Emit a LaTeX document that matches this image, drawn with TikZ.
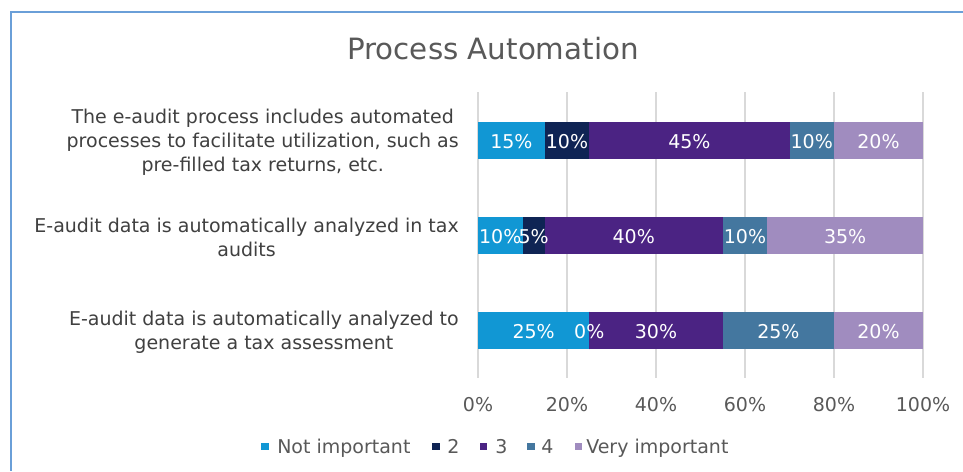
\documentclass[tikz,border=0pt]{standalone}
\usepackage{fontspec}
\setmainfont{DejaVu Sans}
\usepackage{tikz}
\usetikzlibrary{positioning}

\definecolor{cnimp}{HTML}{1197D4}
\definecolor{cdos}{HTML}{0F2454}
\definecolor{ctres}{HTML}{4B2383}
\definecolor{ccuatro}{HTML}{44779F}
\definecolor{cvimp}{HTML}{A08CBF}
\definecolor{cmarco}{HTML}{6A9FD8}
\definecolor{crejilla}{HTML}{D9D9D9}
\definecolor{ctexto}{HTML}{404040}
\definecolor{ceje}{HTML}{595959}

\tikzset{
  titulo/.style={font=\fontsize{22}{26}\selectfont, text=ceje, inner sep=0pt},
  categoria/.style={font=\fontsize{14.25}{18}\selectfont, text=ctexto, align=center, inner sep=0pt},
  pct/.style={font=\fontsize{14.25}{18}\selectfont, text=white, inner sep=0pt},
  eje/.style={font=\fontsize{14.25}{18}\selectfont, text=ceje, inner sep=0pt},
  leyenda/.style={font=\fontsize{14.25}{18}\selectfont, text=ceje, inner sep=0pt},
  cuadro/.style={minimum size=5.5pt, inner sep=0pt},
  rejilla/.style={draw=crejilla, line width=1.1pt},
  marco/.style={draw=cmarco, line width=1.9pt}
}

\begin{document}
\begin{tikzpicture}[x=0.75pt, y=-0.75pt]
    % Parámetros
    \def\xcero{478} % posición del 0%
    \def\esc{4.45} % píxeles por 1%
    \def\medio{18.8} % media altura de barra

    \useasboundingbox (0,0) rectangle (963,471);
    \fill[white] (0,0) rectangle (963,471);

    % Marco
    \draw[marco] (963,12) -- (11,12) -- (11,471);

    % Título
    \node[titulo, anchor=base] (titulo) at (493,59) {Process Automation};

    % Rejilla y eje
    \foreach \p [count=\i] in {0,20,...,100}{
      \draw[rejilla] (\xcero+\esc*\p,92) -- (\xcero+\esc*\p,378);
      \node[eje, anchor=base] (t\i) at (\xcero+\esc*\p,411) {\p\%};
    }

    % Barras
    \foreach \f/\y/\va/\vb/\vc/\vd/\ve in {1/140.5/15/10/45/10/20, 2/235.5/10/5/40/10/35, 3/330.5/25/0/30/25/20}{
      \pgfmathsetmacro\pb{\va}
      \pgfmathsetmacro\pc{\va+\vb}
      \pgfmathsetmacro\pd{\va+\vb+\vc}
      \pgfmathsetmacro\pe{\va+\vb+\vc+\vd}
      \foreach \ini/\val/\col in {0/\va/cnimp, \pb/\vb/cdos, \pc/\vc/ctres, \pd/\vd/ccuatro, \pe/\ve/cvimp}
        \fill[fill=\col] (\xcero+\esc*\ini,\y-\medio) rectangle (\xcero+\esc*\ini+\esc*\val,\y+\medio);
      % etiquetas encima
      \foreach \ini/\val [count=\k] in {0/\va, \pb/\vb, \pc/\vc, \pd/\vd, \pe/\ve}
        \node[pct, anchor=base] (p\f-\k) at (\xcero+\esc*\ini+0.5*\esc*\val,\y+8) {\val\%};
    }

    % Categorías
    \node[categoria, anchor=east] (cat1) at (459,142.5) {The e-audit process includes automated\\processes to facilitate utilization, such as\\pre-filled tax returns, etc.};
    \node[categoria, anchor=east] (cat2) at (459,237.5) {E-audit data is automatically analyzed in tax\\audits};
    \node[categoria, anchor=east] (cat3) at (459,332.5) {E-audit data is automatically analyzed to\\generate a tax assessment};

    % Leyenda
    \foreach \cx/\tx/\col/\txt [count=\k] in {265/277/cnimp/Not important, 436/447/cdos/2, 483.5/495/ctres/3, 531/541/ccuatro/4, 578.5/586/cvimp/Very important}{
      \node[cuadro, fill=\col] (c\k) at (\cx,446.5) {};
      \node[leyenda, anchor=base west] (l\k) at (\tx,453) {\txt};
    }
  \end{tikzpicture}
\end{document}
